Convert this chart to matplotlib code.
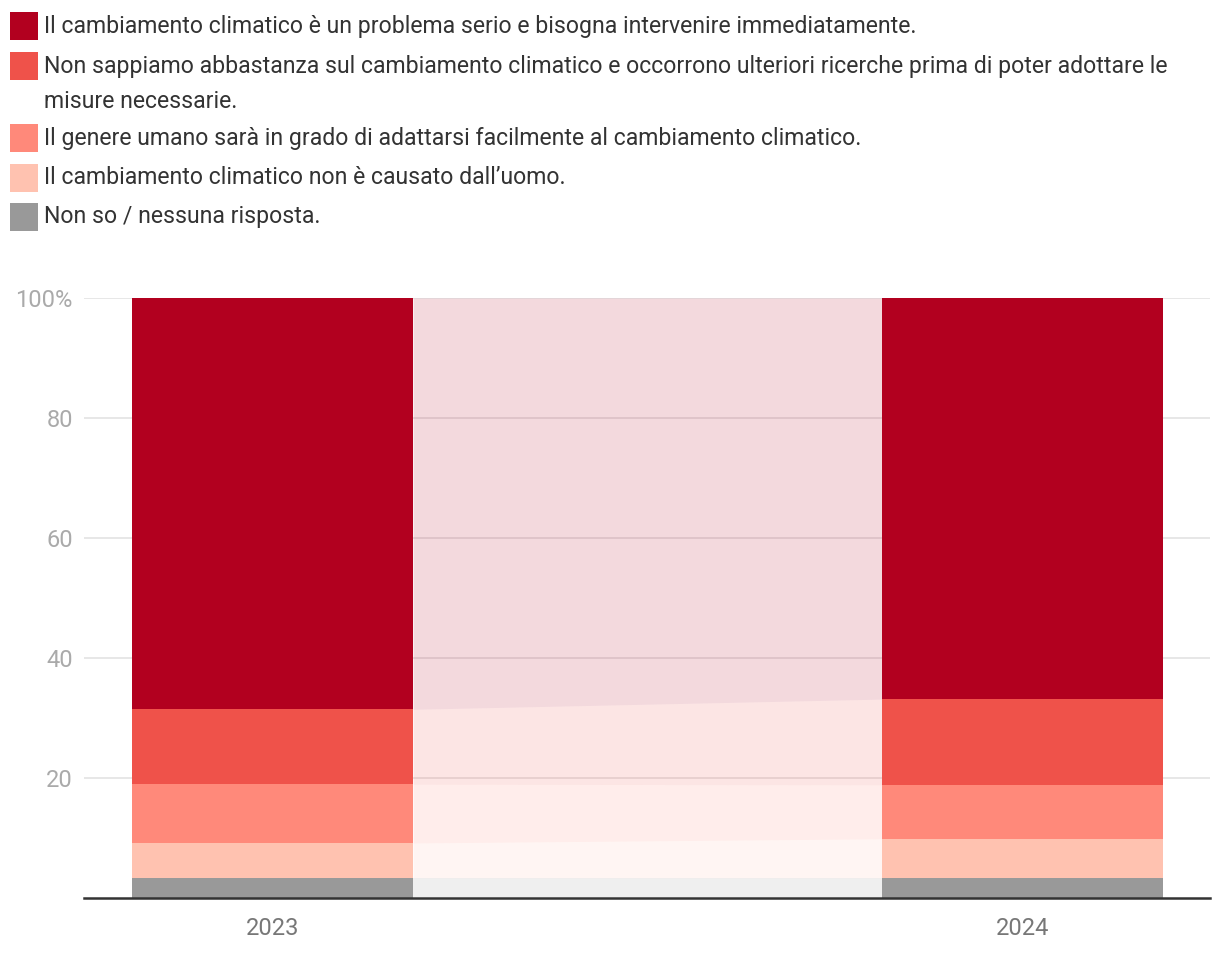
import matplotlib.pyplot as plt
from matplotlib.patches import Rectangle

plt.rcParams['font.family'] = ['Roboto', 'DejaVu Sans']

years = ['2023', '2024']
labels = [
    'Non so / nessuna risposta.',
    'Il cambiamento climatico non è causato dall\u2019uomo.',
    'Il genere umano sarà in grado di adattarsi facilmente al cambiamento climatico.',
    'Non sappiamo abbastanza sul cambiamento climatico e occorrono ulteriori ricerche prima di poter adottare le\nmisure necessarie.',
    'Il cambiamento climatico è un problema serio e bisogna intervenire immediatamente.',
]
colors = ['#999999', '#ffc2b0', '#ff897a', '#ef524a', '#b2001f']
values_2023 = [3.3, 5.8, 9.8, 12.5, 68.6]
values_2024 = [3.3, 6.5, 9.0, 14.3, 66.9]

W, H = 1220, 956
fig = plt.figure(figsize=(W / 100, H / 100), dpi=100)
ax = fig.add_axes([84 / W, 1 - 897.5 / H, (1210 - 84) / W, (897.5 - 298) / H])

x = [0, 1]
width = 0.375
bot_a, bot_b = 0, 0
for i in range(len(labels)):
    va, vb = values_2023[i], values_2024[i]
    ax.bar(x, [va, vb], width=width, bottom=[bot_a, bot_b], color=colors[i], linewidth=0, zorder=3)
    xs = [width / 2, 1 - width / 2]
    ax.fill_between(xs, [bot_a, bot_b], [bot_a + va, bot_b + vb], color=colors[i], alpha=0.15, linewidth=0, zorder=2)
    bot_a += va
    bot_b += vb

ax.set_xlim(-0.2513, 1.25)
ax.set_ylim(0, 100)
ax.set_yticks([20, 40, 60, 80, 100])
ax.set_yticklabels(['20', '40', '60', '80', '100%'])
ax.set_xticks(x)
ax.set_xticklabels(years)
ax.grid(axis='y', color='#e3e3e3', linewidth=1.2, zorder=1)
ax.set_axisbelow(True)
for s in ['top', 'right', 'left']:
    ax.spines[s].set_visible(False)
ax.spines['bottom'].set_color('#333333')
ax.spines['bottom'].set_linewidth(1.8)
ax.spines['bottom'].set_zorder(5)
ax.tick_params(axis='y', length=0, pad=8, labelsize=17, labelcolor='#aaaaaa')
ax.tick_params(axis='x', length=0, pad=14, labelsize=17, labelcolor='#777777')

# legend drawn by hand
legend_rows = [(26, 4), (66, 3), (138, 2), (178, 1), (217, 0)]
for yc, idx in legend_rows:
    fig.patches.append(Rectangle((10 / W, 1 - (yc + 14) / H), 28 / W, 28 / H,
                                 transform=fig.transFigure, color=colors[idx], linewidth=0))
    for k, line in enumerate(labels[idx].split('\n')):
        fig.text(44 / W, 1 - (yc + 35 * k) / H, line, fontsize=16.6, color='#333333', va='center')

fig.savefig('out.png', dpi=100)
